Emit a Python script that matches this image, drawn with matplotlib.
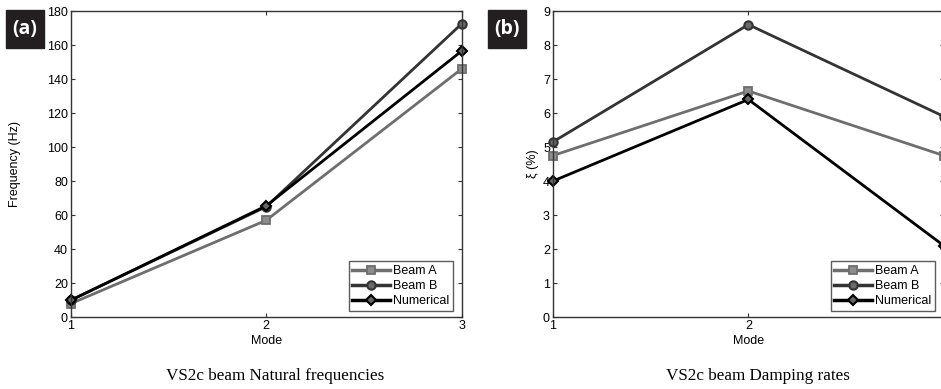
import matplotlib
matplotlib.use("Agg")
import matplotlib.pyplot as plt
from matplotlib.patches import Rectangle

modes = [1, 2, 3]
freq_beam_a = [8, 57, 146]
freq_beam_b = [10, 65, 172.5]
freq_numerical = [10, 65.5, 156.5]
damp_beam_a = [4.75, 6.65, 4.75]
damp_beam_b = [5.15, 8.6, 5.9]
damp_numerical = [4.0, 6.4, 2.1]
series_names = ["Beam A", "Beam B", "Numerical"]

plt.rcParams['font.family'] = ['Liberation Sans', 'DejaVu Sans']

W, H = 941, 389
fig = plt.figure(figsize=(W / 100, H / 100), dpi=100)

styles = [
    dict(color="#6e6e6e", marker="s", markersize=5.5, markerfacecolor="#8c8c8c",
         markeredgewidth=1.3),
    dict(color="#333333", marker="o", markersize=6, markerfacecolor="#6a6a6a",
         markeredgewidth=1.5),
    dict(color="#000000", marker="D", markersize=5, markerfacecolor="#666666",
         markeredgewidth=1.5),
]
FS = 9

def make_axes(x0, x1, ytop, ybot):
    return fig.add_axes([x0 / W, 1 - ybot / H, (x1 - x0) / W, (ybot - ytop) / H])

def style_axes(ax):
    for s in ax.spines.values():
        s.set_color("#333333")
        s.set_linewidth(1.0)
    ax.tick_params(direction="in", top=True, right=True, labelsize=FS,
                   length=3, color="#333333", pad=2)
    ax.set_xlim(1, 3)
    ax.set_xticks([1, 2, 3])
    ax.set_xlabel("Mode", fontsize=FS, labelpad=2)

def add_legend(ax, right, bottom):
    leg = ax.legend(loc="lower right", fontsize=FS, frameon=True, fancybox=False,
                    edgecolor="#333333", handlelength=3.0, borderpad=0.3,
                    labelspacing=0.25, handletextpad=0.25, borderaxespad=0.0,
                    bbox_to_anchor=(right / W, 1 - bottom / H),
                    bbox_transform=fig.transFigure)
    leg.get_frame().set_linewidth(1.0)
    for line in leg.get_lines():
        line.set_linewidth(2.5)
    return leg

ax1 = make_axes(70.7, 461.7, 11, 317.3)
for name, vals, st in zip(series_names, [freq_beam_a, freq_beam_b, freq_numerical], styles):
    ax1.plot(modes, vals, linewidth=2, label=name, clip_on=False, **st)
style_axes(ax1)
ax1.set_ylim(0, 180)
ax1.set_yticks(range(0, 181, 20))
ax1.set_ylabel("Frequency (Hz)", fontsize=FS, labelpad=19)
add_legend(ax1, 453, 311)

ax2 = make_axes(552.7, 944, 11, 317.3)
for name, vals, st in zip(series_names, [damp_beam_a, damp_beam_b, damp_numerical], styles):
    ax2.plot(modes, vals, linewidth=2, label=name, clip_on=False, **st)
style_axes(ax2)
ax2.set_ylim(0, 9)
ax2.set_yticks(range(0, 10))
ax2.set_ylabel("ξ (%)", fontsize=FS, labelpad=3)
add_legend(ax2, 935, 311)

# panel badges
for (x0, x1, lab) in [(6, 44, "(a)"), (488, 526, "(b)")]:
    fig.patches.append(Rectangle((x0 / W, 1 - 48 / H), (x1 - x0) / W, 38 / H,
                                 transform=fig.transFigure, color="#231f20", zorder=5))
    fig.text((x0 + x1) / 2 / W, 1 - 29 / H, lab, color="white", fontsize=14,
             fontweight="bold", ha="center", va="center", zorder=6,
             family=["Open Sans", "DejaVu Sans"])

fig.text(275 / W, 1 - 376 / H, "VS2c beam Natural frequencies", ha="center", va="center",
         fontsize=12.3, family=["Liberation Serif", "DejaVu Serif"])
fig.text(758 / W, 1 - 376 / H, "VS2c beam Damping rates", ha="center", va="center",
         fontsize=12.3, family=["Liberation Serif", "DejaVu Serif"])

fig.savefig("out.png", dpi=100)
